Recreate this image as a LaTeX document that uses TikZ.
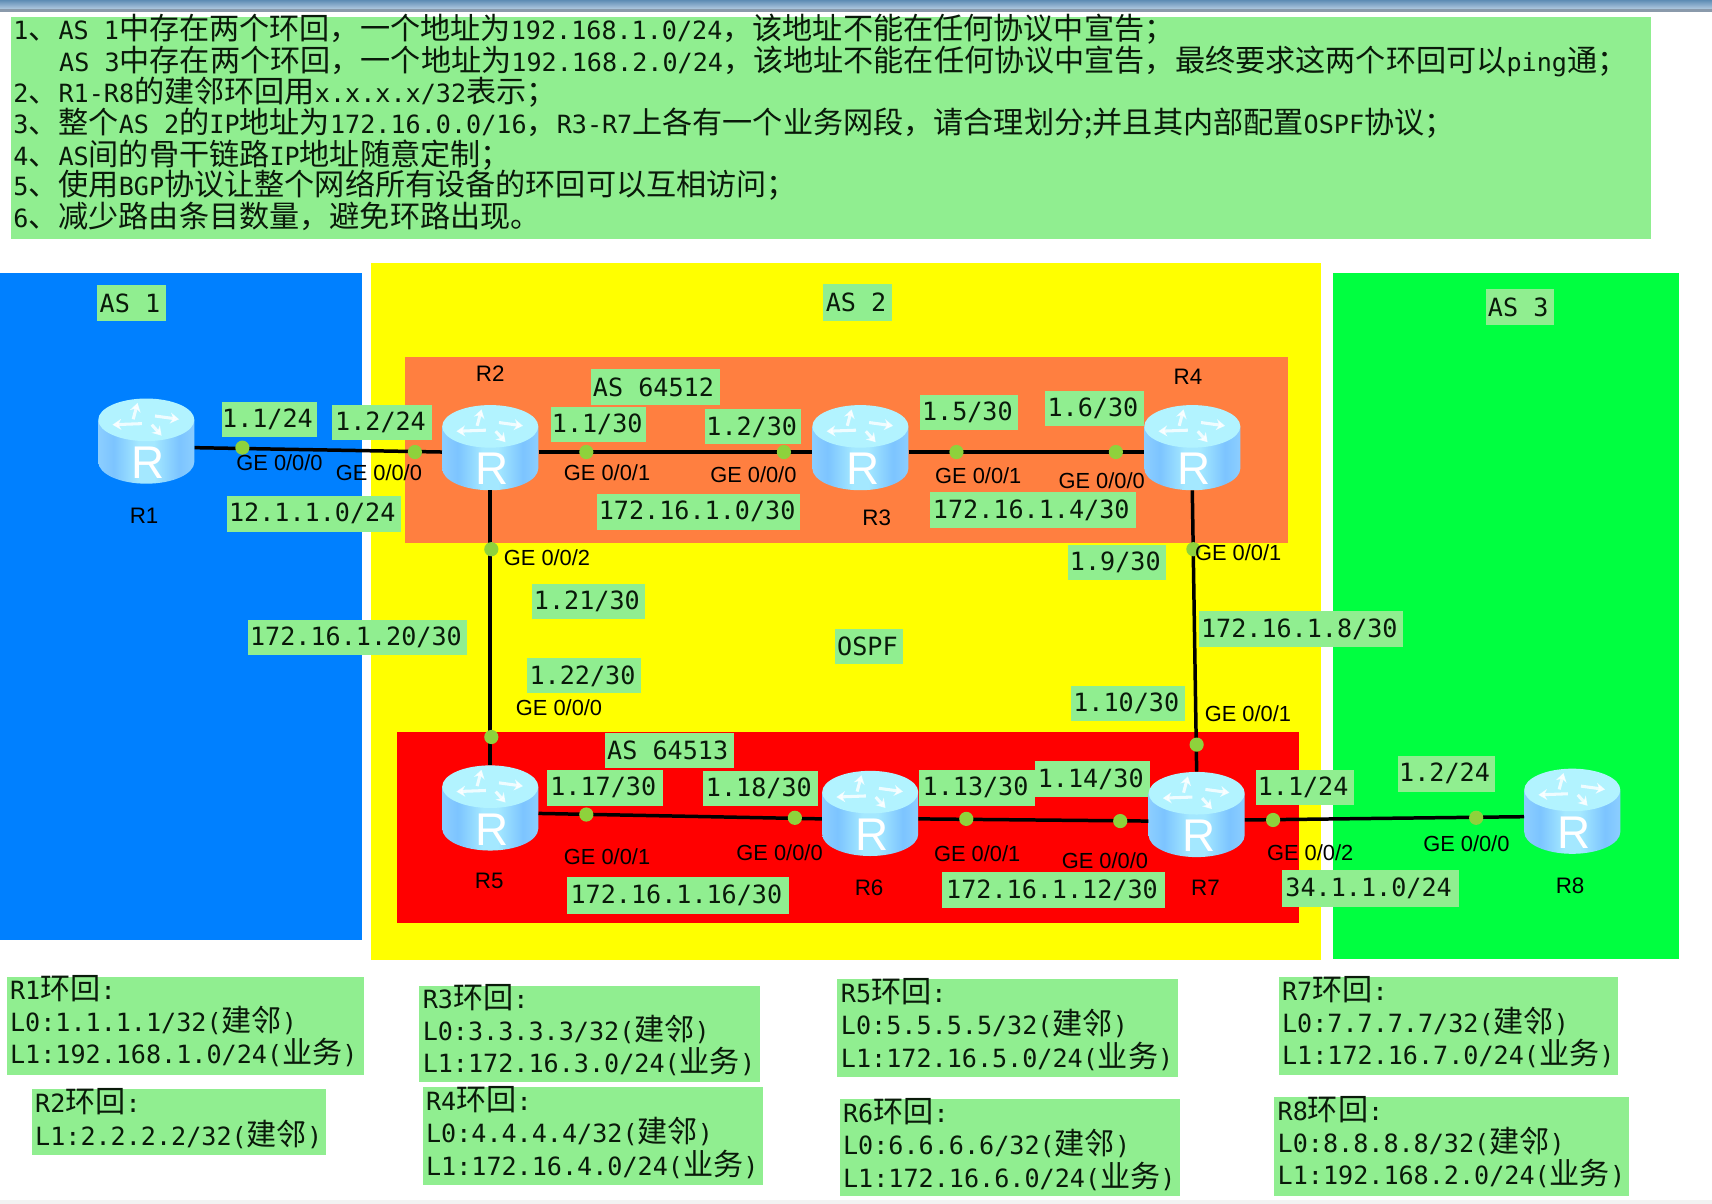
\documentclass[tikz,border=0pt]{standalone}
\usepackage{fontspec}
\usetikzlibrary{arrows.meta}
\setmainfont{DejaVu Sans Mono}
\newfontfamily\cjk[Scale=1.2]{Noto Sans CJK SC}
\newfontfamily\arialf{Liberation Sans}
\newcommand{\zh}[1]{{\cjk #1}}
\definecolor{lblg}{HTML}{90EE90}
\definecolor{as1c}{HTML}{0080FF}
\definecolor{as2c}{HTML}{FFFF00}
\definecolor{as3c}{HTML}{00FF40}
\definecolor{redc}{HTML}{FF0000}
\definecolor{orangec}{HTML}{FF7F40}
\definecolor{dotc}{HTML}{8ED23C}
\definecolor{txtc}{HTML}{0A1A0A}
\definecolor{rtop}{HTML}{B2F3FF}
\definecolor{rl}{HTML}{8CCEFF}
\definecolor{rd}{HTML}{7CC4FF}
\definecolor{rm}{HTML}{A4E8FF}
\definecolor{barA}{HTML}{5E8CB4}
\definecolor{barB}{HTML}{AFC8DF}
\definecolor{barC}{HTML}{8A9AAB}
\pgfdeclarehorizontalshading{routerbody}{100bp}{color(0bp)=(rl); color(25bp)=(rl); color(33bp)=(rd); color(46bp)=(rm); color(54bp)=(rm); color(67bp)=(rd); color(75bp)=(rl); color(100bp)=(rl)}
\tikzset{
  lbl/.style={fill=lblg,inner sep=0pt,font=\fontsize{23}{29.5}\selectfont,text=txtc},
  boxtxt/.style={anchor=north west,align=left,inner sep=0pt,font=\fontsize{23}{29.5}\selectfont,text=txtc},
  txtline/.style={anchor=base west,inner sep=0pt,font=\fontsize{23}{28}\selectfont,text=txtc},
  ge/.style={inner sep=0pt,font=\arialf\fontsize{20}{22}\selectfont,text=black},
  rname/.style={inner sep=0pt,font=\arialf\fontsize{20.5}{22}\selectfont,text=black},
  routerbox/.style={minimum width=88pt,minimum height=78pt,inner sep=0pt},
  link/.style={line width=3.2pt,black},
  port/.style={circle,fill=dotc,inner sep=0pt,minimum size=13pt},
}
\newcommand{\lab}[6]{\node[lbl,minimum width={#4-#2},minimum height={#5-#3}] (#1) at ({(#2+#4)/2},{(#3+#5)/2}) {#6\kern3pt};}
\newcommand{\bigbox}[7]{\fill[lblg] (#2,#3) rectangle (#4,#5);
  \node[boxtxt] (#1) at (#2+3,#6-13) {#7};}
\newcommand{\router}[3]{%
  \node[routerbox] (#1) at (#2,#3) {};
  \begin{scope}[shift={(#2,#3)}]
    \shade[shading=routerbody]
      (-44,-19) -- (-44,19) arc[start angle=180,end angle=0,x radius=44,y radius=20] -- (44,-19) -- cycle;
    \fill[rtop] (0,-19.5) ellipse[x radius=44,y radius=19.5];
    \begin{scope}[white,opacity=.8,line width=2.8pt,-{Stealth[length=8pt,width=10pt]}]
      \draw (-12,-20) -- (-8,-35);
      \draw (8,-23) -- (30,-20);
      \draw (-4,-16) -- (-31,-15);
      \draw (5,-15) -- (14,-5);
    \end{scope}
    \node[inner sep=0pt,text=white,font=\arialf\fontsize{42}{42}\selectfont] at (2,19.5) {R};
  \end{scope}}
\begin{document}
\begin{tikzpicture}[x=1pt,y=-1pt]
\useasboundingbox (0,0) rectangle (1568,1102.7);
\fill[white] (0,0) rectangle (1568,1102.7);
\shade[top color=barA,bottom color=barB] (0,0) rectangle (1568,8);
\fill[barC] (0,8) rectangle (1568,11);
\fill[black!5] (0,1099) rectangle (1568,1102.7);
% regions
\fill[as1c] (0,250) rectangle (332,861);
\fill[as2c] (340,241) rectangle (1210,879);
\fill[as3c] (1221,250) rectangle (1538,878);
\fill[orangec] (371,327) rectangle (1180,497);
\fill[redc] (364,670) rectangle (1190,845);
% requirement text
\fill[lblg] (10,16) rectangle (1512,219);
\node[txtline] (t1) at (12,36.5) {1\zh{、}AS 1\zh{中存在两个环回，一个地址为}192.168.1.0/24\zh{，该地址不能在任何协议中宣告；}};
\node[txtline] (t2) at (54,65.5) {AS 3\zh{中存在两个环回，一个地址为}192.168.2.0/24\zh{，该地址不能在任何协议中宣告，最终要求这两个环回可以}ping\zh{通；}};
\node[txtline] (t3) at (12,94) {2\zh{、}R1-R8\zh{的建邻环回用}x.x.x.x/32\zh{表示；}};
\node[txtline] (t4) at (12,122.5) {3\zh{、整个}AS 2\zh{的}IP\zh{地址为}172.16.0.0/16\zh{，}R3-R7\zh{上各有一个业务网段，请合理划分}\zh{;}\zh{并且其内部配置}OSPF\zh{协议；}};
\node[txtline] (t5) at (12,151.5) {4\zh{、}AS\zh{间的骨干链路}IP\zh{地址随意定制；}};
\node[txtline] (t6) at (12,179) {5\zh{、使用}BGP\zh{协议让整个网络所有设备的环回可以互相访问；}};
\node[txtline] (t7) at (12,208) {6\zh{、减少路由条目数量，避免环路出现。}};
% labels
\lab{as1}{89}{261}{152}{294}{AS 1}
\lab{as2}{754}{260}{817}{294}{AS 2}
\lab{as3}{1361}{265}{1423}{298}{AS 3}
\lab{a1}{203}{368}{290}{400}{1.1/24}
\lab{a2}{304}{371}{396}{403}{1.2/24}
\lab{a3}{505}{373}{592}{405}{1.1/30}
\lab{a4}{646}{375}{734}{407}{1.2/30}
\lab{a5}{843}{362}{932}{394}{1.5/30}
\lab{a6}{957}{358}{1048}{390}{1.6/30}
\lab{as4}{541}{338}{659}{371}{AS 64512}
\lab{n1}{208}{454}{367}{487}{12.1.1.0/24}
\lab{n2}{547}{452}{733}{485}{172.16.1.0/30}
\lab{n3}{852}{451}{1040}{484}{172.16.1.4/30}
\lab{a7}{978}{499}{1068}{531}{1.9/30}
\lab{a8}{487}{535}{591}{567}{1.21/30}
\lab{n4}{227}{568}{428}{600}{172.16.1.20/30}
\lab{n5}{1098}{560}{1285}{593}{172.16.1.8/30}
\lab{ospf}{765}{576}{827}{608}{OSPF}
\lab{a9}{483}{603}{587}{635}{1.22/30}
\lab{a10}{981}{628}{1085}{660}{1.10/30}
\lab{as5}{554}{671}{672}{703}{AS 64513}
\lab{a11}{501}{705}{607}{738}{1.17/30}
\lab{a12}{644}{706}{749}{738}{1.18/30}
\lab{a13}{842}{705}{948}{738}{1.13/30}
\lab{a14}{948}{697}{1053}{730}{1.14/30}
\lab{a15}{1150}{705}{1240}{737}{1.1/24}
\lab{a16}{1280}{692}{1369}{725}{1.2/24}
\lab{n6}{519}{803}{723}{837}{172.16.1.16/30}
\lab{n7}{863}{799}{1067}{832}{172.16.1.12/30}
\lab{n8}{1174}{797}{1336}{831}{34.1.1.0/24}
% loopback boxes
\bigbox{b1}{6}{895}{333}{985}{906}{R1\zh{环回}:\\L0:1.1.1.1/32(\zh{建邻})\\L1:192.168.1.0/24(\zh{业务})}
\bigbox{b2}{29}{997}{299}{1058}{1010}{R2\zh{环回}:\\L1:2.2.2.2/32(\zh{建邻})}
\bigbox{b3}{384}{903}{696}{991}{914}{R3\zh{环回}:\\L0:3.3.3.3/32(\zh{建邻})\\L1:172.16.3.0/24(\zh{业务})}
\bigbox{b4}{387}{996}{699}{1085}{1008}{R4\zh{环回}:\\L0:4.4.4.4/32(\zh{建邻})\\L1:172.16.4.0/24(\zh{业务})}
\bigbox{b5}{767}{897}{1079}{986}{909}{R5\zh{环回}:\\L0:5.5.5.5/32(\zh{建邻})\\L1:172.16.5.0/24(\zh{业务})}
\bigbox{b6}{769}{1007}{1081}{1095}{1019}{R6\zh{环回}:\\L0:6.6.6.6/32(\zh{建邻})\\L1:172.16.6.0/24(\zh{业务})}
\bigbox{b7}{1171}{895}{1482}{985}{907}{R7\zh{环回}:\\L0:7.7.7.7/32(\zh{建邻})\\L1:172.16.7.0/24(\zh{业务})}
\bigbox{b8}{1167}{1005}{1492}{1095}{1017}{R8\zh{环回}:\\L0:8.8.8.8/32(\zh{建邻})\\L1:192.168.2.0/24(\zh{业务})}
% routers
\router{R1}{134}{404}
\router{R2}{449}{410}
\router{R3}{788}{410}
\router{R4}{1092}{410}
\router{R5}{449}{740}
\router{R6}{797}{745}
\router{R7}{1096}{746}
\router{R8}{1440}{743}
% links
\draw[link] ([yshift=-6pt]R1.east) -- ([yshift=-4pt]R2.west);
\draw[link] ([yshift=-4pt]R2.east) -- ([yshift=-4pt]R3.west);
\draw[link] ([yshift=-4pt]R3.east) -- ([yshift=-4pt]R4.west);
\draw[link] (R2.south) -- (R5.north);
\draw[link] (R4.south) -- (R7.north);
\draw[link] ([yshift=-5pt]R5.east) -- ([yshift=-5pt]R6.west);
\draw[link] ([yshift=-5pt]R6.east) -- ([yshift=-6pt]R7.west);
\draw[link] ([yshift=-5pt]R7.east) -- ([yshift=-5pt]R8.west);
% ports
\node[port] (p1) at (222,410) {};
\node[port] (p2) at (380,414) {};
\node[port] (p3) at (537,414) {};
\node[port] (p4) at (718,414) {};
\node[port] (p5) at (876,414) {};
\node[port] (p6) at (1022,414) {};
\node[port] (p7) at (450,503) {};
\node[port] (p8) at (1093,503) {};
\node[port] (p9) at (450,675) {};
\node[port] (p10) at (1096,682) {};
\node[port] (p11) at (537,746) {};
\node[port] (p12) at (728,749) {};
\node[port] (p13) at (885,750) {};
\node[port] (p14) at (1026,752) {};
\node[port] (p15) at (1166,751) {};
\node[port] (p16) at (1352,749) {};
% interface names
\node[ge] (g1) at (256,424) {GE 0/0/0};
\node[ge] (g2) at (347,433) {GE 0/0/0};
\node[ge] (g3) at (556,433) {GE 0/0/1};
\node[ge] (g4) at (690,435) {GE 0/0/0};
\node[ge] (g5) at (896,436) {GE 0/0/1};
\node[ge] (g6) at (1009,440) {GE 0/0/0};
\node[ge] (g7) at (501,511) {GE 0/0/2};
\node[ge] (g8) at (1134,506) {GE 0/0/1};
\node[ge] (g9) at (512,648) {GE 0/0/0};
\node[ge] (g10) at (1143,654) {GE 0/0/1};
\node[ge] (g11) at (556,785) {GE 0/0/1};
\node[ge] (g12) at (714,781) {GE 0/0/0};
\node[ge] (g13) at (895,782) {GE 0/0/1};
\node[ge] (g14) at (1012,788) {GE 0/0/0};
\node[ge] (g15) at (1200,781) {GE 0/0/2};
\node[ge] (g16) at (1343,773) {GE 0/0/0};
% router names
\node[rname] (l1) at (132,472) {R1};
\node[rname] (l2) at (449,342) {R2};
\node[rname] (l3) at (803,474) {R3};
\node[rname] (l4) at (1088,345) {R4};
\node[rname] (l5) at (448,807) {R5};
\node[rname] (l6) at (796,813) {R6};
\node[rname] (l7) at (1104,813) {R7};
\node[rname] (l8) at (1438,811) {R8};
\end{tikzpicture}
\end{document}
